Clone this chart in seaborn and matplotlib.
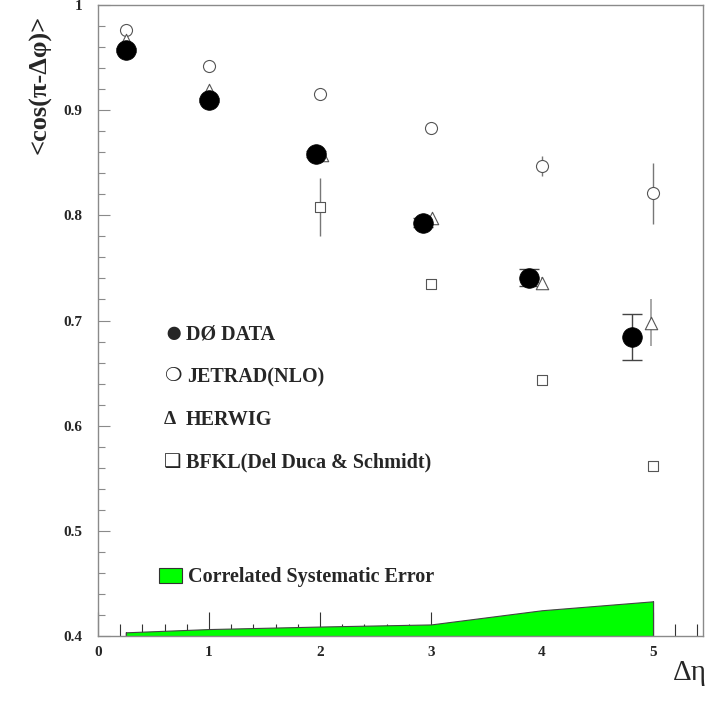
import numpy as np
import pandas as pd
import matplotlib
matplotlib.use("Agg")
import matplotlib.pyplot as plt
import seaborn as sns

# values
d0_x = [0.25, 1.0, 1.96, 2.93, 3.88, 4.81]
d0_y = [0.957, 0.910, 0.858, 0.793, 0.7405, 0.684]
d0_err = [0.002, 0.002, 0.003, 0.004, 0.008, 0.022]

jetrad_x = [0.25, 1.0, 2.0, 3.0, 4.0, 5.0]
jetrad_y = [0.976, 0.942, 0.915, 0.883, 0.847, 0.821]
jetrad_err = [0.0, 0.0, 0.0, 0.0, 0.0095, 0.029]

herwig_x = [0.25, 1.0, 2.02, 3.01, 4.0, 4.98]
herwig_y = [0.967, 0.919, 0.857, 0.797, 0.736, 0.698]
herwig_err = [0.0, 0.0, 0.0, 0.0, 0.005, 0.022]

bfkl_x = [2.0, 3.0, 4.0, 5.0]
bfkl_y = [0.808, 0.735, 0.643, 0.562]
bfkl_err = [0.0275, 0.0, 0.0, 0.0]

syst_x = [0.25, 1.0, 2.0, 3.0, 4.0, 5.0]
syst_top = [0.4035, 0.4066, 0.409, 0.411, 0.4245, 0.433]

y_ticks = [0.4, 0.5, 0.6, 0.7, 0.8, 0.9, 1.0]
y_labels = ["0.4", "0.5", "0.6", "0.7", "0.8", "0.9", "1"]
x_ticks = [0, 1, 2, 3, 4, 5]

legend_symbols = ["\u25cf", "\u274d", "\u0394", "\u2751"]
legend_labels = ["DØ DATA", "JETRAD(NLO)", "HERWIG", "BFKL(Del Duca & Schmidt)"]

sns.set_style("ticks")
plt.rcParams['font.family'] = ['Liberation Serif', 'DejaVu Sans']

fig = plt.figure(figsize=(7.09, 7.15), dpi=100)
ax = fig.add_axes([98 / 709, 1 - 636 / 715, 605 / 709, 631 / 715])

frame = "#8a8a8a"
grey = "#555555"

# correlated systematic band
ax.fill_between(syst_x, 0.4, syst_top, color="#00ff00", edgecolor="#444444",
                linewidth=0.8, zorder=1)
ax.plot([syst_x[0], syst_x[0]], [0.4, syst_top[0]], color="#444444", lw=0.8, zorder=1)
ax.plot([syst_x[-1], syst_x[-1]], [0.4, syst_top[-1]], color="#444444", lw=0.8, zorder=1)

# error bars
ax.errorbar(jetrad_x, jetrad_y, yerr=jetrad_err, fmt="none", ecolor="#777777",
            elinewidth=1.0, capsize=0, zorder=2)
ax.errorbar(herwig_x, herwig_y, yerr=herwig_err, fmt="none", ecolor="#999999",
            elinewidth=1.2, capsize=0, zorder=2)
ax.errorbar(bfkl_x, bfkl_y, yerr=bfkl_err, fmt="none", ecolor="#777777",
            elinewidth=1.0, capsize=0, zorder=2)
ax.errorbar(d0_x, d0_y, yerr=d0_err, fmt="none", ecolor="#444444",
            elinewidth=1.0, capsize=7.5, capthick=1.0, zorder=2)

# markers
sns.scatterplot(x=jetrad_x, y=jetrad_y, ax=ax, marker="o", s=75,
                facecolor="white", edgecolor=grey, linewidth=0.8, zorder=3)
sns.scatterplot(x=herwig_x, y=herwig_y, ax=ax, marker="^", s=80,
                facecolor="white", edgecolor=grey, linewidth=0.8, zorder=3)
sns.scatterplot(x=bfkl_x, y=bfkl_y, ax=ax, marker="s", s=60,
                facecolor="white", edgecolor=grey, linewidth=0.8, zorder=3)
sns.scatterplot(x=d0_x, y=d0_y, ax=ax, marker="o", s=200,
                color="black", edgecolor="black", linewidth=0.5, zorder=4)

ax.set_xlim(0, 5.45)
ax.set_ylim(0.4, 1.0)

for side in ["left", "right", "top", "bottom"]:
    ax.spines[side].set_visible(True)
    ax.spines[side].set_color(frame)
    ax.spines[side].set_linewidth(1.0)

ax.set_xticks(x_ticks)
ax.set_xticklabels([str(t) for t in x_ticks], fontweight="bold", fontsize=11)
ax.set_xticks(np.arange(0, 5.45, 0.2), minor=True)
ax.set_yticks(y_ticks)
ax.set_yticklabels(y_labels, fontweight="bold", fontsize=11)
ax.set_yticks(np.arange(0.4, 1.0, 0.02), minor=True)
ax.tick_params(axis="x", which="both", bottom=True, top=False)
ax.tick_params(axis="y", which="both", left=True, right=False)
ax.tick_params(axis="x", which="major", direction="in", length=17, width=0.8,
               color="#333333", pad=7)
ax.tick_params(axis="x", which="minor", direction="in", length=8.5, width=0.8,
               color="#333333")
ax.tick_params(axis="y", which="major", direction="in", length=8.5, width=0.8,
               color=frame, pad=11)
ax.tick_params(axis="y", which="minor", direction="in", length=5, width=0.8,
               color=frame)
ax.set_axisbelow(True)

# axis titles
fig.text(40 / 709, 1 - 84 / 715, "<cos(\u03c0-\u0394\u03c6)>", rotation=90,
         ha="center", va="center", fontsize=19, fontweight="bold")
fig.text(690 / 709, 1 - 673 / 715, "\u0394\u03b7", ha="center", va="center",
         fontsize=21)

# legend drawn as text rows
row_y = [335, 377, 420, 462]
label_x = [186, 187, 186, 186]
symbol_size = [22, 14, 14, 14]
for sym, lab, yy, lx, ss in zip(legend_symbols, legend_labels, row_y, label_x, symbol_size):
    fig.text(164 / 709, 1 - yy / 715, sym, ha="left", va="center",
             fontsize=ss, fontweight="bold")
    fig.text(lx / 709, 1 - yy / 715, lab, ha="left", va="center",
             fontsize=14.5, fontweight="bold")

ax.add_patch(plt.Rectangle((159 / 709, 1 - 583 / 715), 23 / 709, 15 / 715,
                           transform=fig.transFigure, facecolor="#00ff00",
                           edgecolor="#333333", linewidth=0.8, clip_on=False))
fig.text(188 / 709, 1 - 577 / 715, "Correlated Systematic Error", ha="left",
         va="center", fontsize=14.5, fontweight="bold")

fig.savefig("out.png", dpi=100, facecolor="white")
